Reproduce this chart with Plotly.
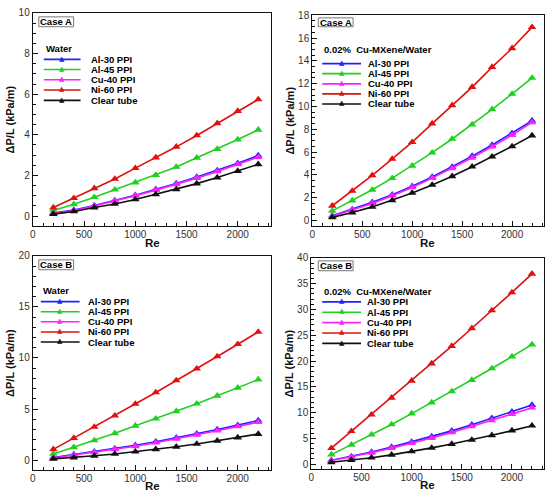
import plotly.graph_objects as go

W, H = 550, 492

re_values = [200, 400, 600, 800, 1000, 1200, 1400, 1600, 1800, 2000, 2200]

series_names = ["Al-30 PPI", "Al-45 PPI", "Cu-40 PPI", "Ni-60 PPI", "Clear tube"]
series_colors = ["#2020ff", "#20d020", "#ff20ff", "#e01010", "#101010"]

# Case A, water
water_a_al30 = [0.15, 0.30, 0.52, 0.77, 1.03, 1.32, 1.60, 1.92, 2.25, 2.60, 2.98]
water_a_al45 = [0.28, 0.58, 0.93, 1.30, 1.65, 2.02, 2.42, 2.87, 3.30, 3.77, 4.25]
water_a_cu40 = [0.13, 0.28, 0.50, 0.74, 1.00, 1.28, 1.56, 1.87, 2.20, 2.55, 2.90]
water_a_ni60 = [0.42, 0.88, 1.37, 1.83, 2.36, 2.88, 3.41, 3.97, 4.57, 5.17, 5.74]
water_a_clear = [0.10, 0.23, 0.42, 0.60, 0.82, 1.07, 1.32, 1.60, 1.90, 2.22, 2.55]

# Case A, 0.02% Cu-MXene/water
nano_a_al30 = [0.42, 0.98, 1.60, 2.27, 3.00, 3.82, 4.70, 5.65, 6.62, 7.65, 8.75]
nano_a_al45 = [0.85, 1.75, 2.70, 3.72, 4.80, 5.95, 7.15, 8.42, 9.75, 11.10, 12.50]
nano_a_cu40 = [0.38, 0.92, 1.50, 2.18, 2.90, 3.72, 4.58, 5.50, 6.48, 7.50, 8.60]
nano_a_ni60 = [1.30, 2.60, 3.97, 5.40, 6.87, 8.50, 10.10, 11.70, 13.45, 15.10, 16.95]
nano_a_clear = [0.28, 0.70, 1.20, 1.78, 2.42, 3.12, 3.88, 4.72, 5.60, 6.50, 7.45]

# Case B, water
water_b_al30 = [0.25, 0.55, 0.82, 1.12, 1.45, 1.80, 2.18, 2.58, 3.00, 3.42, 3.88]
water_b_al45 = [0.60, 1.25, 1.92, 2.62, 3.35, 4.05, 4.78, 5.52, 6.30, 7.08, 7.88]
water_b_cu40 = [0.20, 0.48, 0.75, 1.05, 1.35, 1.70, 2.07, 2.47, 2.88, 3.30, 3.72]
water_b_ni60 = [1.05, 2.15, 3.25, 4.35, 5.50, 6.62, 7.80, 8.95, 10.15, 11.35, 12.55]
water_b_clear = [0.12, 0.25, 0.42, 0.60, 0.82, 1.05, 1.30, 1.58, 1.88, 2.20, 2.55]

# Case B, 0.02% Cu-MXene/water
nano_b_al30 = [0.75, 1.50, 2.35, 3.30, 4.30, 5.35, 6.45, 7.65, 8.90, 10.15, 11.45]
nano_b_al45 = [1.85, 3.75, 5.70, 7.70, 9.80, 11.95, 14.10, 16.30, 18.55, 20.85, 23.20]
nano_b_cu40 = [0.70, 1.40, 2.20, 3.10, 4.05, 5.05, 6.15, 7.30, 8.50, 9.70, 10.95]
nano_b_ni60 = [3.10, 6.40, 9.60, 12.85, 16.15, 19.50, 22.90, 26.35, 29.80, 33.30, 36.90]
nano_b_clear = [0.35, 0.78, 1.25, 1.80, 2.45, 3.15, 3.90, 4.70, 5.60, 6.50, 7.45]

panels = [
    dict(case="Case A", fluid="Water",
         data=[water_a_al30, water_a_al45, water_a_cu40, water_a_ni60, water_a_clear],
         box=(30, 269, 7, 223), yrange=[-0.5, 10], dtick=2, minor=0.5,
         case_box=(36, 71, 11, 21), leg_x=(41, 78, 86), title_y=43.5,
         item_y=[54, 64.3, 74.6, 85, 95.5], re_pos=(150, 240)),
    dict(case="Case A", fluid="0.02%&nbsp;&nbsp;Cu-MXene/Water",
         data=[nano_a_al30, nano_a_al45, nano_a_cu40, nano_a_ni60, nano_a_clear],
         box=(311, 544, 9.3, 223), yrange=[-0.5, 18], dtick=2, minor=0.5,
         case_box=(317, 352, 12, 21), leg_x=(321, 360, 365), title_y=44.5,
         item_y=[58.3, 68.5, 78.8, 89, 99.2], re_pos=(427, 240)),
    dict(case="Case B", fluid="Water",
         data=[water_b_al30, water_b_al45, water_b_cu40, water_b_ni60, water_b_clear],
         box=(30, 269, 253, 470), yrange=[-1, 20], dtick=5, minor=1,
         case_box=(36, 71, 257, 267), leg_x=(38, 77, 83), title_y=288.5,
         item_y=[299.3, 309.5, 319.7, 330, 340.2], re_pos=(150, 485.5)),
    dict(case="Case B", fluid="0.02%&nbsp;&nbsp;Cu-MXene/Water",
         data=[nano_b_al30, nano_b_al45, nano_b_cu40, nano_b_ni60, nano_b_clear],
         box=(310, 544, 255, 469), yrange=[-1, 40], dtick=5, minor=1,
         case_box=(317, 352, 258, 268), leg_x=(321, 360, 364), title_y=289,
         item_y=[299.5, 310, 320.5, 331, 341.5], re_pos=(427, 484.5)),
]

FONT = "Liberation Sans, Arial, sans-serif"


def px(x):
    return x / W


def py(y):
    return 1 - y / H


fig = go.Figure()
shapes = []
annotations = []

for i, p in enumerate(panels):
    n = "" if i == 0 else str(i + 1)
    x0, x1, y0, y1 = p["box"]
    for name, color, values in zip(series_names, series_colors, p["data"]):
        fig.add_trace(go.Scatter(
            x=re_values, y=values, mode="lines+markers", name=name,
            xaxis="x" + n, yaxis="y" + n, showlegend=False,
            line=dict(color=color, width=1.6),
            marker=dict(symbol="triangle-up", size=7.5, color=color),
        ))

    axis_common = dict(
        showline=True, mirror=True, linecolor="#111", linewidth=1.2,
        ticks="inside", ticklen=5, tickcolor="#111", showgrid=False, zeroline=False,
        tickfont=dict(family=FONT, size=10, color="#333"),
    )
    fig.layout["xaxis" + n] = dict(
        axis_common, domain=[px(x0), px(x1)], anchor="y" + n,
        range=[0, 2320], dtick=500, tick0=0, ticklabelstandoff=-1,
        minor=dict(dtick=100, ticks="inside", ticklen=3, tickcolor="#111"),
    )
    fig.layout["yaxis" + n] = dict(
        axis_common, domain=[py(y1), py(y0)], anchor="x" + n,
        range=p["yrange"], dtick=p["dtick"], tick0=0,
        minor=dict(dtick=p["minor"], ticks="inside", ticklen=3, tickcolor="#111"),
        title=dict(text="<b>\u0394P/L (kPa/m)</b>", font=dict(family=FONT, size=11, color="#111"),
                   standoff=1),
    )

    # x axis title
    rx, ry = p["re_pos"]
    annotations.append(dict(text="<b>Re</b>", xref="paper", yref="paper",
                            x=px(rx), y=py(ry), showarrow=False,
                            xanchor="center", yanchor="middle",
                            font=dict(family=FONT, size=11.5, color="#111")))

    # case label box
    bx0, bx1, by0, by1 = p["case_box"]
    shapes.append(dict(type="rect", xref="paper", yref="paper",
                       x0=px(bx0), x1=px(bx1), y0=py(by1), y1=py(by0),
                       line=dict(color="#777", width=1), fillcolor="white"))
    annotations.append(dict(text="<b>%s</b>" % p["case"], xref="paper", yref="paper",
                            x=px((bx0 + bx1) / 2), y=py((by0 + by1) / 2),
                            showarrow=False, xanchor="center", yanchor="middle",
                            font=dict(family=FONT, size=9.5, color="black")))

    # legend
    lx0, lx1, tx = p["leg_x"]
    annotations.append(dict(text="<b>%s</b>" % p["fluid"], xref="paper", yref="paper",
                            x=px(lx0), y=py(p["title_y"]), showarrow=False,
                            xanchor="left", yanchor="middle",
                            font=dict(family=FONT, size=9.5, color="black")))
    for name, color, yy in zip(series_names, series_colors, p["item_y"]):
        shapes.append(dict(type="line", xref="paper", yref="paper",
                           x0=px(lx0), x1=px(lx1), y0=py(yy), y1=py(yy),
                           line=dict(color=color, width=1.6)))
        annotations.append(dict(text="\u25B2", xref="paper", yref="paper",
                                x=px((lx0 + lx1) / 2), y=py(yy - 0.8), showarrow=False,
                                xanchor="center", yanchor="middle",
                                font=dict(family="DejaVu Sans", size=7, color=color)))
        annotations.append(dict(text="<b>%s</b>" % name, xref="paper", yref="paper",
                                x=px(tx), y=py(yy), showarrow=False,
                                xanchor="left", yanchor="middle",
                                font=dict(family=FONT, size=9.5, color="black")))

fig.update_layout(
    width=W, height=H,
    margin=dict(l=0, r=0, t=0, b=0),
    paper_bgcolor="white", plot_bgcolor="white",
    showlegend=False,
    shapes=shapes, annotations=annotations,
)

# the page body has a default margin; remove it so the figure fills the window
fig.write_html("out.html", config={"displayModeBar": False},
               post_script="document.body.style.margin='0';")
